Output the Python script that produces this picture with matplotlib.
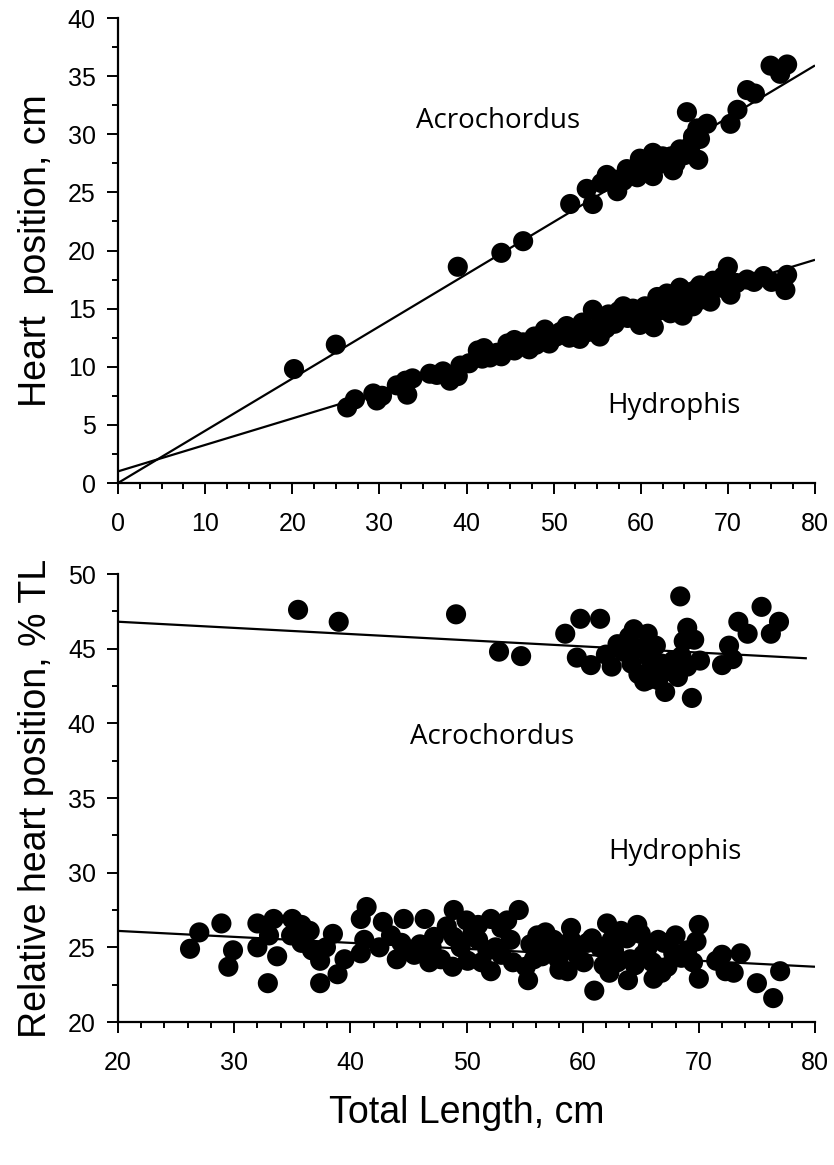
import numpy as np
import matplotlib
matplotlib.use("Agg")
import matplotlib.pyplot as plt
from matplotlib.ticker import MultipleLocator

# ---------------- DATA ----------------
# Top panel: heart position (cm) vs total length (cm)
acro_tl = [20.2, 25.0, 39.0, 44.0, 46.5, 51.9, 53.8, 54.5, 55.5, 56.1, 57.0, 57.3, 58.0,
           58.4, 59.6, 59.9, 60.5, 61.4, 61.4, 62.0, 62.5, 63.0, 63.5, 63.7, 64.0, 64.5,
           65.0, 65.3, 65.8, 66.0, 66.5, 66.6, 66.8, 67.6, 70.3, 71.1, 72.2, 73.1, 74.9,
           76.0, 76.8]
acro_hp = [9.8, 11.9, 18.6, 19.8, 20.8, 24.0, 25.3, 24.0, 25.8, 26.5, 26.1, 25.1, 26.0,
           27.0, 26.3, 27.9, 27.2, 28.4, 26.4, 27.4, 28.1, 27.6, 28.1, 26.9, 27.5, 28.7,
           28.2, 31.9, 29.1, 29.8, 30.5, 27.8, 29.6, 30.9, 30.9, 32.1, 33.8, 33.5, 35.9,
           35.2, 36.0]

hydro_tl = [26.3, 27.2, 29.3, 29.7, 30.3, 32.0, 33.0, 33.2, 33.8, 35.8, 36.6, 37.3, 38.1,
            39.0, 39.3, 40.3, 41.3, 41.8, 42.7, 43.5, 44.7, 45.5, 45.5, 46.5, 47.2, 48.0,
            49.0, 49.5, 50.3, 51.5, 51.8, 52.5, 53.3, 54.0, 54.5, 55.3, 55.5, 56.3, 57.0,
            57.5, 58.5, 59.1, 59.9, 60.5, 61.0, 61.5, 61.9, 62.5, 63.0, 63.4, 64.0, 64.5,
            65.0, 65.5, 66.0, 66.8, 67.0, 67.5, 68.3, 69.0, 70.0, 70.3, 71.0, 72.2, 73.0,
            74.1, 75.0, 76.6, 76.8, 42.0, 44.0, 47.8, 50.8, 53.0, 56.0, 58.0, 60.0, 62.0,
            64.8, 66.3, 68.0, 69.5]
hydro_hp = [6.5, 7.2, 7.7, 7.1, 7.5, 8.4, 8.8, 7.6, 9.0, 9.4, 9.3, 9.6, 8.8,
            9.2, 10.1, 10.3, 11.4, 10.7, 10.8, 11.2, 12.0, 11.4, 12.3, 12.1, 11.5, 11.9,
            13.2, 12.0, 12.6, 13.5, 12.5, 13.2, 13.8, 13.0, 14.9, 12.6, 14.0, 14.5, 13.7,
            14.8, 14.2, 15.0, 13.6, 15.2, 14.4, 13.4, 16.0, 15.3, 16.3, 14.6, 15.8, 16.8,
            15.0, 16.4, 15.2, 17.0, 15.8, 16.5, 17.4, 16.8, 18.6, 16.2, 17.2, 17.5, 17.3,
            17.8, 17.3, 16.6, 17.9, 11.6, 10.9, 12.6, 13.0, 12.4, 13.3, 15.2, 14.2, 14.8,
            14.4, 16.6, 15.6, 17.8]

# Bottom panel: relative heart position (% TL) vs total length (cm)
acro_tl2 = [35.5, 39.0, 49.1, 52.8, 54.7, 58.5, 59.8, 61.5, 60.7, 59.5, 62.0, 62.5, 63.0,
            63.5, 64.0, 64.2, 64.4, 64.8, 65.0, 65.3, 65.6, 65.6, 65.8, 66.0, 66.3, 66.5,
            66.8, 67.1, 67.4, 67.8, 68.2, 68.4, 68.5, 68.7, 69.0, 69.0, 69.4, 69.6, 70.1,
            72.0, 72.6, 72.9, 73.4, 74.2, 75.4, 76.2, 76.9]
acro_rel = [47.6, 46.8, 47.3, 44.8, 44.5, 46.0, 47.0, 47.0, 43.9, 44.4, 44.6, 43.8, 45.3,
            44.8, 45.8, 44.0, 46.3, 43.3, 45.0, 42.8, 46.0, 42.9, 44.3, 43.6, 45.2, 42.9,
            44.0, 42.1, 43.5, 44.2, 43.1, 48.5, 44.5, 45.5, 43.8, 46.4, 41.7, 45.6, 44.2,
            43.9, 45.2, 44.3, 46.8, 46.0, 47.8, 46.0, 46.8]

hydro_tl2 = [26.2, 27.0, 28.9, 29.9, 29.5, 32.0, 32.0, 33.4, 33.0, 33.7, 32.9, 35.0, 34.9,
             35.8, 36.5, 35.8, 36.7, 37.9, 37.4, 37.4, 38.5, 39.5, 38.9, 41.4, 40.9, 42.8,
             41.2, 40.9, 42.5, 44.6, 44.4, 45.4, 48.9, 54.5, 46.4, 51.0, 52.1, 48.9, 47.2,
             45.5, 47.8, 48.8, 50.1, 51.0, 51.8, 52.1, 53.0, 53.0, 53.8, 55.1, 55.3, 56.1,
             57.0, 57.9, 59.0, 58.7, 60.4, 60.1, 61.0, 62.1, 63.3, 64.7, 62.7, 64.1, 63.9,
             65.6, 66.1, 67.3, 67.0, 68.0, 69.0, 69.5, 70.0, 70.0, 72.0, 73.6, 72.3, 73.0,
             75.0, 77.0, 76.4, 46.0, 47.0, 49.5, 50.5, 52.5, 54.0, 55.5, 56.5, 57.5, 58.2,
             59.5, 61.5, 61.8, 62.5, 63.0, 64.5, 65.2, 66.0, 66.8, 68.5, 43.5, 44.0, 46.8,
             48.3, 50.0, 51.3, 53.5, 55.8, 56.8, 58.0, 59.0, 60.8, 62.3, 63.8, 65.0, 66.5,
             67.8, 69.8, 71.5]
hydro_rel = [24.9, 26.0, 26.6, 24.8, 23.7, 26.6, 25.0, 26.9, 25.8, 24.4, 22.6, 26.9, 25.8,
             26.5, 26.1, 25.3, 24.8, 25.0, 24.1, 22.6, 25.9, 24.2, 23.2, 27.7, 26.9, 26.7,
             25.5, 24.6, 25.0, 26.9, 25.3, 24.6, 27.5, 27.5, 26.9, 26.5, 26.9, 25.7, 25.7,
             24.5, 24.2, 23.7, 24.1, 25.5, 24.8, 23.4, 26.3, 24.5, 25.5, 23.7, 22.8, 25.8,
             25.0, 24.2, 25.5, 23.4, 25.3, 24.0, 22.1, 26.6, 26.1, 26.5, 24.8, 24.2, 22.8,
             25.0, 22.9, 23.7, 25.3, 25.8, 24.8, 24.0, 26.5, 22.9, 24.5, 24.6, 23.4, 23.3,
             22.6, 23.4, 21.6, 25.2, 25.0, 25.0, 25.9, 25.0, 24.0, 25.2, 24.4, 25.5, 24.8,
             24.5, 25.0, 23.8, 25.5, 24.0, 23.8, 24.5, 24.0, 23.3, 24.3, 25.8, 24.2, 24.0,
             26.4, 26.8, 24.0, 26.8, 24.2, 26.0, 23.5, 26.3, 25.6, 23.3, 25.6, 25.9, 25.5,
             24.6, 25.4, 24.1]

# Regression lines: (intercept, slope, x_start, x_end)
acro_fit = (0.0, 0.449, 0.0, 80.0)
hydro_fit = (1.0, 0.2275, 0.0, 80.0)
acro_fit2 = (47.63, -0.0413, 20.0, 79.3)
hydro_fit2 = (26.9, -0.040, 20.0, 80.0)

# ---------------- STYLE ----------------
plt.rcParams['font.family'] = ['Liberation Sans', 'DejaVu Sans']
TICK_FS = 18
LABEL_FS = 27
SPECIES_FS = 20
SPECIES_FONT = ['Open Sans', 'DejaVu Sans']
MS = 210

fig = plt.figure(figsize=(8.34, 11.65), dpi=100)
ax1 = fig.add_axes([118/834, 1 - 483/1165, 697/834, 465/1165])
ax2 = fig.add_axes([118/834, 1 - 1022/1165, 697/834, 448/1165])


def style(ax):
    for s in ('top', 'right'):
        ax.spines[s].set_visible(False)
    for s in ('left', 'bottom'):
        ax.spines[s].set_linewidth(1.6)
    ax.tick_params(which='major', direction='out', length=8, width=1.4,
                   labelsize=TICK_FS)
    ax.tick_params(which='minor', direction='out', length=4.5, width=1.4)
    ax.tick_params(axis='x', which='major', pad=13)
    ax.tick_params(axis='y', which='major', pad=8)


def fit_line(ax, fit):
    b, m, x0, x1 = fit
    xs = np.array([x0, x1])
    ax.plot(xs, b + m * xs, color='black', lw=1.6, zorder=1, solid_capstyle='butt')


# Top panel
style(ax1)
fit_line(ax1, acro_fit)
fit_line(ax1, hydro_fit)
ax1.scatter(acro_tl, acro_hp, s=MS, color='black', edgecolors='none', zorder=2)
ax1.scatter(hydro_tl, hydro_hp, s=MS, color='black', edgecolors='none', zorder=2)
ax1.set_xlim(0, 80)
ax1.set_ylim(0, 40)
ax1.xaxis.set_major_locator(MultipleLocator(10))
ax1.xaxis.set_minor_locator(MultipleLocator(2.5))
ax1.yaxis.set_major_locator(MultipleLocator(5))
ax1.yaxis.set_minor_locator(MultipleLocator(2.5))
ax1.set_ylabel('Heart  position, cm', fontsize=LABEL_FS, labelpad=10)
ax1.text(43.6, 30.5, 'Acrochordus', fontsize=SPECIES_FS, family=SPECIES_FONT,
         ha='center', va='baseline')
ax1.text(63.8, 6.0, 'Hydrophis', fontsize=SPECIES_FS, family=SPECIES_FONT,
         ha='center', va='baseline')

# Bottom panel
style(ax2)
fit_line(ax2, acro_fit2)
fit_line(ax2, hydro_fit2)
ax2.scatter(acro_tl2, acro_rel, s=MS, color='black', edgecolors='none', zorder=2)
ax2.scatter(hydro_tl2, hydro_rel, s=MS, color='black', edgecolors='none', zorder=2)
ax2.set_xlim(20, 80)
ax2.set_ylim(20, 50)
ax2.xaxis.set_major_locator(MultipleLocator(10))
ax2.xaxis.set_minor_locator(MultipleLocator(2))
ax2.yaxis.set_major_locator(MultipleLocator(5))
ax2.yaxis.set_minor_locator(MultipleLocator(2.5))
ax2.set_ylabel('Relative heart position, % TL', fontsize=LABEL_FS, labelpad=10)
ax2.set_xlabel('Total Length, cm', fontsize=LABEL_FS, labelpad=14)
ax2.text(52.2, 38.6, 'Acrochordus', fontsize=SPECIES_FS, family=SPECIES_FONT,
         ha='center', va='baseline')
ax2.text(67.9, 30.9, 'Hydrophis', fontsize=SPECIES_FS, family=SPECIES_FONT,
         ha='center', va='baseline')

fig.savefig('out.png', dpi=100)
